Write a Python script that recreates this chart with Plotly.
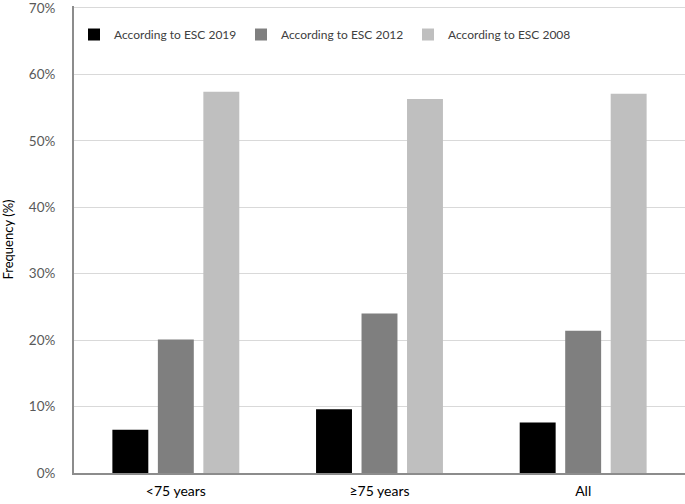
import plotly.graph_objects as go

categories = ["<75 years", "≥75 years", "All"]
esc2019 = [6.5, 9.6, 7.6]
esc2012 = [20.1, 24.0, 21.4]
esc2008 = [57.4, 56.3, 57.1]
series_names = ["According to ESC 2019", "According to ESC 2012", "According to ESC 2008"]
colors = ["#000000", "#7f7f7f", "#bfbfbf"]
ytick_vals = [0, 10, 20, 30, 40, 50, 60, 70]
ytick_text = ["0%", "10%", "20%", "30%", "40%", "50%", "60%", "70%"]

fig = go.Figure()
for name, vals, col in zip(series_names, [esc2019, esc2012, esc2008], colors):
    fig.add_trace(go.Bar(x=categories, y=vals, name=name, marker_color=col,
                         marker_line_width=0))

fig.update_layout(
    width=685, height=504,
    margin=dict(l=74, r=0, t=6, b=31, autoexpand=False),
    paper_bgcolor="white", plot_bgcolor="white",
    barmode="group", bargap=0.33, bargroupgap=0.21,
    font=dict(family="Lato, Open Sans, sans-serif", size=13, color="#595959"),
    legend=dict(orientation="h", x=0.0, xanchor="left", y=0.97, yanchor="top",
                font=dict(size=12, color="#404040"), entrywidth=122, entrywidthmode="pixels",
                bgcolor="rgba(0,0,0,0)"),
    xaxis=dict(showline=True, linecolor="#8c8c8c", linewidth=2, ticks="", automargin=False,
               tickfont=dict(color="#000000", size=14), showgrid=False, ticklabelstandoff=4),
    yaxis=dict(range=[0, 70.3], tickvals=ytick_vals, ticktext=ytick_text, showgrid=True,
               gridcolor="#d9d9d9", gridwidth=1, showline=True, linecolor="#8c8c8c",
               linewidth=2, zeroline=False, automargin=False, ticklabelstandoff=14,
               ticklabeloverflow="allow",
               title=dict(text="Frequency (%)", font=dict(color="#000000", size=13), standoff=14),
               tickfont=dict(color="#595959", size=13.5)),
)
fig.write_html("out.html", config={"displayModeBar": False})

with open("out.html", "r", encoding="utf-8") as f:
    html = f.read()
html = html.replace("<body>", '<body style="margin:0;padding:0;">', 1)
with open("out.html", "w", encoding="utf-8") as f:
    f.write(html)
